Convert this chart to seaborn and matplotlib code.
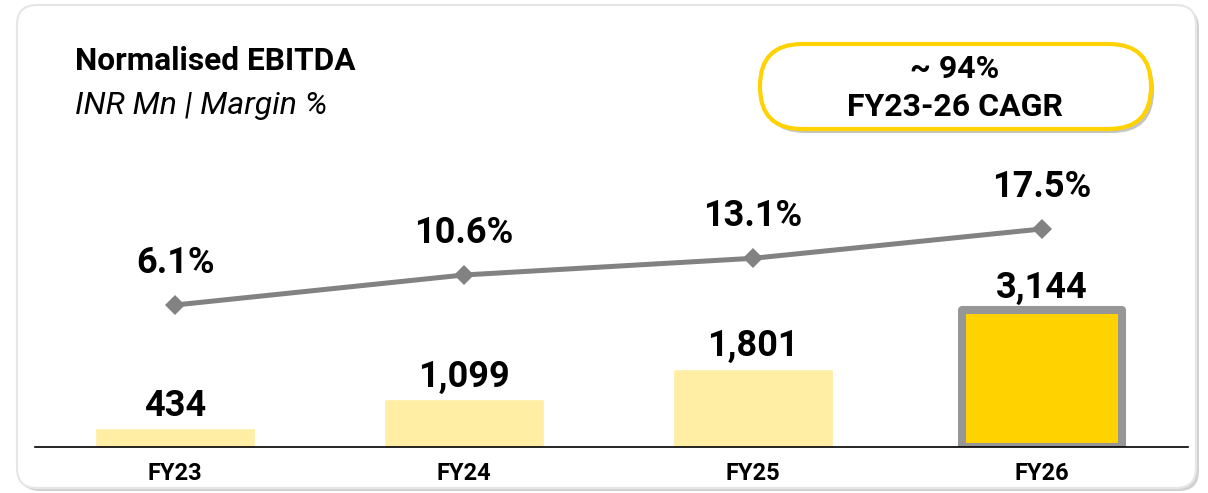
import matplotlib
matplotlib.use("Agg")
import matplotlib.pyplot as plt
import seaborn as sns
import pandas as pd
from matplotlib.patches import FancyBboxPatch

# data
years = ["FY23", "FY24", "FY25", "FY26"]
ebitda = [434, 1099, 1801, 3144]
margin = [6.1, 10.6, 13.1, 17.5]
ebitda_labels = ["434", "1,099", "1,801", "3,144"]
margin_labels = ["6.1%", "10.6%", "13.1%", "17.5%"]
bar_colors = ["#FFEEA3", "#FFEEA3", "#FFEEA3", "#FFD200"]

sns.set_theme(style="white")
plt.rcParams["font.family"] = ["Roboto", "DejaVu Sans"]

fig = plt.figure(figsize=(12.08, 4.93), dpi=100)
fig.patch.set_facecolor("white")

# card background with soft shadow
shadow = FancyBboxPatch((0.20, 0.02), 11.79, 4.83,
                        boxstyle="round,pad=0,rounding_size=0.2",
                        transform=fig.dpi_scale_trans, facecolor="#d2d2d2",
                        edgecolor="none", zorder=0)
card = FancyBboxPatch((0.17, 0.05), 11.79, 4.83,
                      boxstyle="round,pad=0,rounding_size=0.2",
                      transform=fig.dpi_scale_trans, facecolor="white",
                      edgecolor="#e6e6e6", linewidth=1.5, zorder=0.5)
fig.patches.extend([shadow, card])

df = pd.DataFrame({"year": years, "ebitda": ebitda, "margin": margin})

ax = fig.add_axes([35 / 1208, 46 / 493, 1153 / 1208, 347 / 493])
ax.set_zorder(5)
ax.patch.set_alpha(0)
sns.barplot(data=df, x="year", y="ebitda", hue="year", palette=bar_colors,
            width=0.554, saturation=1, legend=False, ax=ax, zorder=3)

last = ax.patches[3]
last.set_edgecolor("#969696")
last.set_linewidth(5.8)
last.set_joinstyle("round")

ax.set_xlim(-0.485, 3.505)
ax.set_ylim(0, 7963)
for s in ["top", "left", "right"]:
    ax.spines[s].set_visible(False)
ax.spines["bottom"].set_color("black")
ax.spines["bottom"].set_linewidth(1.2)
ax.spines["bottom"].set_zorder(4)
ax.set_yticks([])
ax.set_xlabel("")
ax.set_ylabel("")
ax.tick_params(axis="x", length=0, pad=11)
for lab in ax.get_xticklabels():
    lab.set_fontsize(17)
    lab.set_fontweight("bold")
    lab.set_color("black")

for i, v in enumerate(ebitda):
    ax.annotate(ebitda_labels[i], (i, v), xytext=(0, 3), textcoords="offset points",
                ha="center", va="bottom", fontsize=26, fontweight="bold", color="black")

# margin line on twin axis
ax2 = ax.twinx()
ax2.set_zorder(6)
ax2.patch.set_alpha(0)
sns.lineplot(x=list(range(len(years))), y=margin, ax=ax2, color="#828282",
             linewidth=3.6, marker="D", markersize=10.5, markeredgewidth=0)
ax2.set_ylim(-15.19, 36.83)
ax2.set_xlim(-0.485, 3.505)
ax2.set_yticks([])
for s in ax2.spines.values():
    s.set_visible(False)
for i, v in enumerate(margin):
    ax2.annotate(margin_labels[i], (i, v), xytext=(0, 17.5), textcoords="offset points",
                 ha="center", va="bottom", fontsize=26, fontweight="bold", color="black")

# titles
fig.text(75 / 1208, 1 - 61 / 493, "Normalised EBITDA", fontsize=22.8, fontweight="bold",
         ha="left", va="center", color="black")
fig.text(75 / 1208, 1 - 105 / 493, "INR Mn | Margin %", fontsize=23, style="italic",
         ha="left", va="center", color="black")

# CAGR pill
pill_shadow = FancyBboxPatch((7.63, 3.60), 3.91, 0.85,
                             boxstyle="round,pad=0,rounding_size=0.42",
                             transform=fig.dpi_scale_trans, facecolor="#c4c4c4",
                             edgecolor="none", zorder=1)
pill = FancyBboxPatch((7.60, 3.64), 3.91, 0.85,
                      boxstyle="round,pad=0,rounding_size=0.42",
                      transform=fig.dpi_scale_trans, facecolor="white",
                      edgecolor="#FFD200", linewidth=3, zorder=2)
fig.patches.extend([pill_shadow, pill])
fig.text(955 / 1208, 1 - 69 / 493, "~ 94%", fontsize=23, fontweight="bold",
         ha="center", va="center", color="black", zorder=3)
fig.text(955 / 1208, 1 - 107 / 493, "FY23-26 CAGR", fontsize=23, fontweight="bold",
         ha="center", va="center", color="black", zorder=3)

fig.savefig("out.png", dpi=100)
